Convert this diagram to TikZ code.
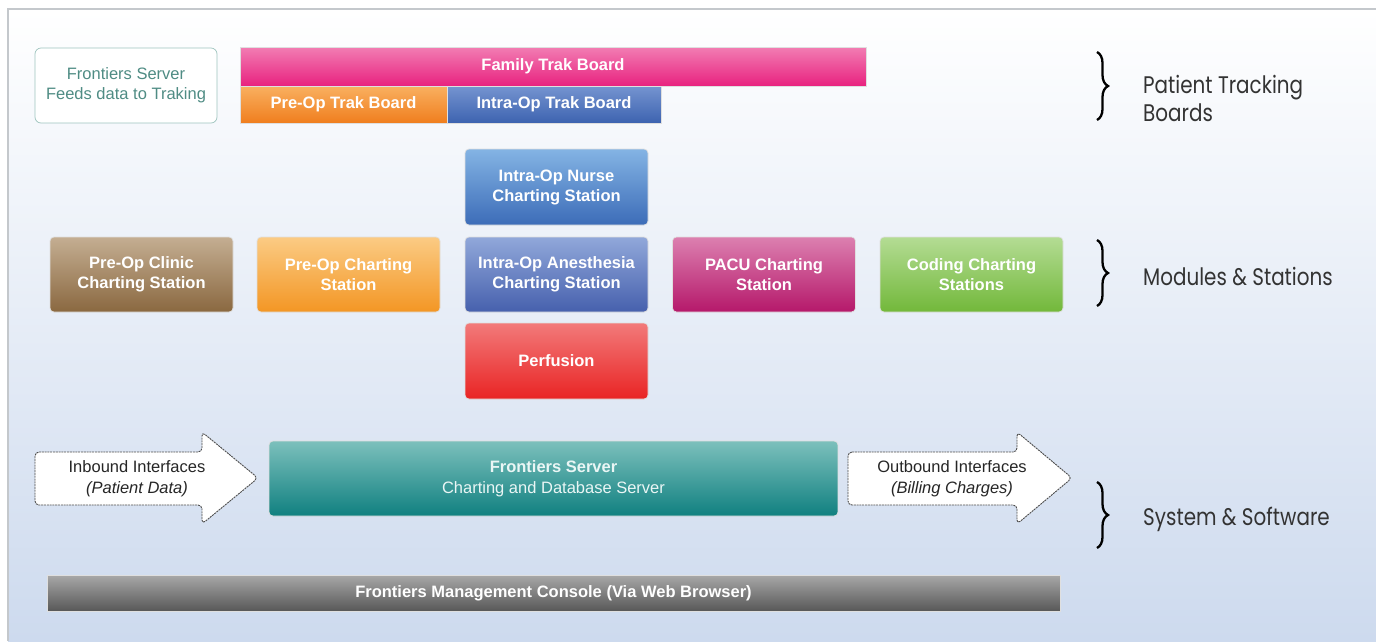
\documentclass[tikz,border=0pt]{standalone}
\usepackage{fontspec}
\setmainfont{Liberation Sans}
\newfontfamily\sidefont[FakeStretch=0.83]{Poppins}
\usetikzlibrary{decorations.pathreplacing}
\definecolor{bgblue}{HTML}{CDDAEE}
\definecolor{framegray}{HTML}{C4C8CC}
\definecolor{feedteal}{HTML}{4F8C84}
\definecolor{feedborder}{HTML}{9EC4BE}
\definecolor{pinkT}{HTML}{F27DB3}\definecolor{pinkB}{HTML}{E8227F}
\definecolor{orT}{HTML}{F9B060}\definecolor{orB}{HTML}{F07E1E}
\definecolor{blT}{HTML}{7594D0}\definecolor{blB}{HTML}{3D63B0}
\definecolor{nuT}{HTML}{84B4E4}\definecolor{nuB}{HTML}{3C6CB8}
\definecolor{clT}{HTML}{C4AE92}\definecolor{clB}{HTML}{8A6840}
\definecolor{prT}{HTML}{FBCB84}\definecolor{prB}{HTML}{F39624}
\definecolor{anT}{HTML}{91A8DA}\definecolor{anB}{HTML}{4660AD}
\definecolor{paT}{HTML}{DC80B0}\definecolor{paB}{HTML}{B5186A}
\definecolor{coT}{HTML}{B4DC94}\definecolor{coB}{HTML}{72B83A}
\definecolor{peT}{HTML}{F27A7A}\definecolor{peB}{HTML}{E92424}
\definecolor{seT}{HTML}{7CC0BC}\definecolor{seB}{HTML}{108080}
\definecolor{cnT}{HTML}{A8A8A8}\definecolor{cnB}{HTML}{585858}
\definecolor{servertext}{HTML}{EAF6F5}
\begin{document}
\begin{tikzpicture}[x=1pt,y=-1pt,
  box/.style={rounded corners=4pt, draw=white!75!gray, line width=0.7pt,
    inner sep=0pt, align=center, text=white,
    font=\bfseries\fontsize{16.5}{20}\selectfont},
  bar/.style={box, rounded corners=0pt},
  grad/.style n args={2}{top color=#1, bottom color=#2},
  arr/.style={draw=black!70, fill=white, line width=0.9pt,
    dash pattern=on 2pt off 0.8pt, rounded corners=4pt},
  arrtext/.style={align=center, text=black!85, inner sep=0pt,
    font=\fontsize{16.5}{21}\selectfont},
  side/.style={anchor=west, inner sep=0pt, align=left, text=black!80,
    font=\sidefont\fontsize{24}{28}\selectfont},
  brc/.style={decorate, decoration={brace, amplitude=11pt}, line width=2.3pt, black}
]
\useasboundingbox (0,0) rectangle (1376,641);
\fill[white] (0,0) rectangle (1376,641);
\shade[top color=white, bottom color=bgblue] (8,9) rectangle (1376,641);
\draw[framegray, line width=2pt] (8,641) -- (8,9) -- (1376,9);

% top row
\node[box, draw=feedborder, fill=white, text=feedteal, font=\fontsize{16.5}{20}\selectfont,
  minimum width=182pt, minimum height=75pt, rounded corners=6pt] (feed) at (126,85.5)
  {Frontiers Server\\Feeds data to Traking};
\node[bar, grad={pinkT}{pinkB}, minimum width=626pt, minimum height=39pt] (family) at (553,66.5) {Family Trak Board};
\node[bar, grad={orT}{orB}, minimum width=207pt, minimum height=37pt] (pretrak) at (343.5,104.5) {Pre-Op Trak Board};
\node[bar, grad={blT}{blB}, minimum width=214pt, minimum height=37pt] (intratrak) at (554,104.5) {Intra-Op Trak Board};

% modules
\tikzset{mod/.style={box, minimum width=183pt, minimum height=75pt}}
\node[mod, grad={nuT}{nuB}, minimum height=76pt] (nurse) at (556.5,187) {Intra-Op Nurse\\Charting Station};
\node[mod, grad={clT}{clB}] (clinic) at (141.5,274.5) {Pre-Op Clinic\\Charting Station};
\node[mod, grad={prT}{prB}] (prech) at (348.5,274.5) {Pre-Op Charting\\Station};
\node[mod, grad={anT}{anB}] (anest) at (556.5,274.5) {Intra-Op Anesthesia\\Charting Station};
\node[mod, grad={paT}{paB}] (pacu) at (764,274.5) {PACU Charting\\Station};
\node[mod, grad={coT}{coB}] (coding) at (971.5,274.5) {Coding Charting\\Stations};
\node[mod, grad={peT}{peB}, minimum height=76pt] (perf) at (556.5,361) {Perfusion};

% system row
\draw[arr] (35,452) -- (202,452) -- (202,432) -- (258,478) -- (202,524) -- (202,505) -- (35,505) -- cycle;
\node[arrtext] (inb) at (137,478.5) {Inbound Interfaces\\\itshape (Patient Data)};
\node[box, grad={seT}{seB}, minimum width=569pt, minimum height=75pt,
  text=servertext, font=\fontsize{16.5}{21}\selectfont] (server) at (553.5,478.5)
  {\textbf{Frontiers Server}\\Charting and Database Server};
\draw[arr] (848,452) -- (1017,452) -- (1017,432) -- (1072,478) -- (1017,524) -- (1017,505) -- (848,505) -- cycle;
\node[arrtext] (outb) at (952,478.5) {Outbound Interfaces\\\itshape (Billing Charges)};

\node[bar, grad={cnT}{cnB}, minimum width=1013pt, minimum height=36pt] (console) at (553.5,593)
  {Frontiers Management Console (Via Web Browser)};

% braces and labels
\coordinate (b1t) at (1097,52); \coordinate (b1b) at (1097,120);
\coordinate (b2t) at (1097,240); \coordinate (b2b) at (1097,306);
\coordinate (b3t) at (1097,482); \coordinate (b3b) at (1097,548);
\draw[brc] (b1t) -- (b1b);
\draw[brc] (b2t) -- (b2b);
\draw[brc] (b3t) -- (b3b);
\node[side] (l1) at (1143,98) {Patient Tracking\\Boards};
\node[side] (l2) at (1143,277) {Modules \& Stations};
\node[side] (l3) at (1143,519) {System \& Software};
\end{tikzpicture}
\end{document}
